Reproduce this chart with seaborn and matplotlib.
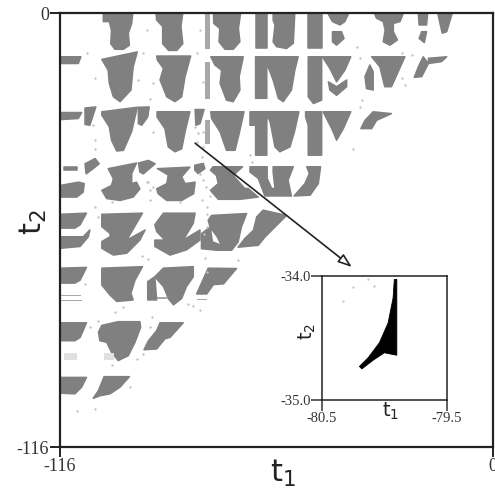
#!/usr/bin/env python3

import matplotlib
matplotlib.use("Agg")
import matplotlib.pyplot as plt
import seaborn as sns

sns.set_theme(style="white")
plt.rcParams['font.family'] = ['Liberation Serif', 'DejaVu Serif']
plt.rcParams['mathtext.default'] = 'regular'
plt.rcParams['axes.unicode_minus'] = False

# outlines of the grey regions, one list per band of t2, as (t1, t2)
row1 = [
    [(-104.4, 0), (-96.5, 0), (-96.8, -2.8), (-97.7, -5.4), (-97.4, -8.6), (-99, -9.7), (-101.3, -9.7), (-102.4, -8.2), (-102.2, -4.6), (-102.8, -2.3), (-104.4, -2.3)],
    [(-90.3, 0), (-83.1, 0), (-83.6, -3.6), (-83.1, -8.2), (-84.7, -10), (-86.9, -10), (-88.5, -8.2), (-88.5, -3.6), (-90.1, -1.9)],
    [(-74.9, 0), (-67.6, 0), (-68.2, -4.1), (-67.8, -7.7), (-69.6, -9.7), (-71.8, -9.7), (-73.4, -7.7), (-73.2, -4.1), (-74.8, -2.8)],
    [(-63.6, 0), (-60.6, 0), (-60.6, -9.4), (-63.6, -9.4)],
    [(-58.9, 0), (-53.1, 0), (-53.5, -8.1), (-55.3, -9.5), (-58, -9), (-58.9, -7.7), (-58.4, -3.2), (-58.9, -1.9)],
    [(-49.5, 0), (-45.9, 0), (-45.9, -9.4), (-49.5, -9.4)],
    [(-44.3, 0), (-38.6, 0), (-39.7, -2.3), (-41, -3.2), (-43, -2.3)],
    [(-43, -5), (-40.6, -5), (-39.9, -6.8), (-41.9, -8.6), (-43, -7.7)],
    [(-31.8, 0), (-24, 0), (-24.9, -2.3), (-26.7, -2.8), (-26.7, -5), (-25.6, -7.2), (-27.6, -8.6), (-29.4, -7.7), (-28.9, -4.6), (-29.4, -2.3), (-31.2, -1.4)],
    [(-20, 0), (-17.5, 0), (-17.8, -3.2), (-19.8, -3.2)],
    [(-19.1, -5), (-17.8, -5), (-18.4, -7.9), (-19.8, -6.8)],
    [(-14.8, 0), (-10.9, 0), (-12.4, -5), (-13.6, -5.4), (-14.2, -2.8)],
]
row2 = [
    [(-116, -11.7), (-110.4, -11.7), (-111.1, -13.5), (-116, -13.5)],
    [(-104.8, -12.4), (-95.3, -10.4), (-96.4, -14.4), (-97, -20.6), (-99.9, -23.7), (-101.7, -22.4), (-102.8, -18.8), (-103.1, -15.3)],
    [(-90.1, -11.5), (-81, -11.5), (-82.5, -17), (-83.4, -22.4), (-85.2, -23.7), (-87.4, -22.4), (-89.2, -17.9), (-88.3, -14.8), (-89.9, -12.6)],
    [(-75.6, -11.7), (-66.9, -11.7), (-68, -17), (-67.8, -20.6), (-69.6, -23.7), (-71.4, -23.3), (-73.1, -18.8), (-72.7, -15.3), (-74.5, -13.9)],
    [(-63.6, -11.7), (-52.2, -11.7), (-53.1, -15.3), (-54, -20.6), (-56.2, -23.7), (-57.5, -22.8), (-58.9, -17.9), (-60.6, -13.5), (-60.6, -22.8), (-63.6, -22.8)],
    [(-49.5, -11.7), (-45.9, -11.7), (-45.9, -23.3), (-48.1, -24.2), (-49.5, -22.4)],
    [(-45.7, -11.7), (-38.1, -11.7), (-39.7, -15.3), (-41.9, -18.4), (-43.7, -14.8)],
    [(-44.1, -18.4), (-41.9, -19.7), (-39.2, -17.9), (-39.2, -19.7), (-41.9, -22), (-43.7, -20.6)],
    [(-32.5, -11.7), (-23.6, -11.7), (-25.4, -15.7), (-27.2, -19.7), (-29, -19.7), (-30.3, -14.4)],
    [(-33, -13.9), (-32.1, -15.7), (-32.1, -20.6), (-33.9, -20.2), (-34.3, -17)],
    [(-17.3, -12.1), (-12.4, -11.7), (-13.8, -13), (-17.3, -13.5)],
    [(-18.7, -11.7), (-17.3, -13.5), (-19.1, -17), (-21.1, -17.2), (-20, -14.4)],
]
row3 = [
    [(-116, -26.6), (-110.2, -26.6), (-111.1, -28.2), (-116, -28.5)],
    [(-109.3, -25.4), (-106.4, -25.1), (-108, -30), (-109.3, -29.8)],
    [(-104.8, -26.4), (-95.3, -25.2), (-96.8, -31.7), (-99, -36.7), (-100.8, -36.9), (-102.2, -34), (-102.8, -30.4), (-104.8, -27.3)],
    [(-95, -25.2), (-92.1, -25.1), (-92.5, -27.8), (-94.1, -30), (-95, -29.6)],
    [(-90, -26.4), (-81.2, -26.4), (-82.5, -31.8), (-83.4, -36.3), (-85.2, -37.1), (-87, -35.8), (-87.9, -30.9), (-90, -27.8)],
    [(-79.8, -25.8), (-77.4, -25.8), (-78.5, -29.6), (-79.6, -30)],
    [(-75.6, -26.4), (-66.7, -26.4), (-68, -32.2), (-69.1, -36.7), (-71.4, -36.7), (-73.1, -31.8), (-75.4, -28.2)],
    [(-65.1, -26.4), (-52, -26.4), (-53.2, -31.8), (-54.4, -35.8), (-57.1, -37.1), (-58.4, -35.8), (-59.7, -29.1), (-60.6, -27.3), (-60.6, -38), (-63.6, -38), (-63.6, -30), (-65.1, -30)],
    [(-50.2, -26.4), (-45.9, -26.4), (-45.9, -38), (-49.5, -38), (-49.5, -30), (-50.2, -27.8)],
    [(-45.5, -26.4), (-38.1, -26.4), (-40.1, -30.9), (-41.9, -34), (-43.2, -30.9), (-44.6, -28.2)],
    [(-32.1, -26.4), (-27.2, -26.9), (-31.2, -28.7), (-32.5, -30.9), (-35.4, -30.9), (-34.3, -28.7)],
]
row4 = [
    [(-115, -41.2), (-111.5, -41.2), (-111.5, -42), (-115, -42)],
    [(-109.3, -40.3), (-106.6, -38.9), (-105.5, -40.3), (-107.1, -41.6), (-109, -43)],
    [(-116, -46.1), (-111, -45.2), (-109.5, -45.6), (-109.8, -47.9), (-111.5, -49.2), (-116, -49.2)],
    [(-103.1, -41.6), (-95.5, -40.1), (-96.8, -42.9), (-96.8, -45.6), (-95.5, -45.2), (-94.6, -47), (-96.4, -49.2), (-99.9, -50.1), (-103.5, -49.6), (-104.8, -47.4), (-102.2, -46.1), (-101.7, -44.3)],
    [(-95, -40.1), (-92.3, -39.4), (-90.5, -40.3), (-93.7, -43), (-94.6, -42.5)],
    [(-89.9, -41.6), (-81.2, -41.2), (-83.4, -43.8), (-82.5, -45.6), (-79.8, -45.2), (-80.2, -48.3), (-83.4, -50.1), (-87.4, -50.1), (-89.7, -48.3), (-90.1, -47), (-87.4, -45.6), (-87, -43.3)],
    [(-79.9, -40.7), (-77.6, -40.2), (-77.2, -41.6), (-79, -42.9), (-79.9, -42)],
    [(-75.7, -42), (-75, -41.1), (-67.1, -41.1), (-69.6, -43.4), (-66.5, -46.9), (-65.6, -46.9), (-62.9, -49.2), (-67.8, -49.8), (-73.6, -49.8), (-75.7, -47.4), (-73.6, -45.6), (-74.1, -43.4)],
    [(-65.1, -41.1), (-60.5, -41.1), (-60.5, -44.2), (-59.3, -46.9), (-58.4, -46.9), (-58.9, -42.5), (-58.9, -41.1), (-53.5, -41.1), (-54.9, -44.7), (-54, -48.9), (-61.1, -48.9), (-62.9, -44.2), (-65.1, -42.5)],
    [(-49.9, -41.1), (-46.2, -41.1), (-46.8, -45.6), (-49, -48.7), (-53.3, -48.9), (-50.4, -45.6), (-49.2, -42.9)],
]
row5 = [
    [(-116, -53.8), (-108.9, -53.5), (-110.6, -56.6), (-112, -57.5), (-116, -57.5)],
    [(-116, -59.8), (-109.8, -59.8), (-108, -58), (-108.4, -59.8), (-110.6, -62.4), (-116, -62.9)],
    [(-104.8, -53.8), (-93.9, -53.5), (-95.5, -56.2), (-98.1, -60.7), (-93.2, -58), (-94.6, -60.7), (-98.1, -64.2), (-101.7, -64.7), (-104.8, -62.9), (-104.8, -61.1), (-102.6, -59.8), (-102.6, -58.9), (-104.8, -57.1)],
    [(-90.6, -56.6), (-88.3, -53.5), (-79.8, -53.5), (-80.3, -56.2), (-83, -60.7), (-78.5, -58), (-78.5, -60.7), (-82.1, -63.3), (-86.5, -64.7), (-90.6, -62.4), (-90.6, -60.7), (-87.9, -60.7), (-90.1, -58.4)],
    [(-76.3, -55.4), (-75.4, -54.1), (-66, -53.6), (-67.4, -57.2), (-68.3, -61.2), (-70, -63.4), (-74.1, -63.4), (-78.1, -63), (-78.1, -59), (-75.8, -57.2)],
    [(-63.3, -54.5), (-61.6, -52.7), (-55.3, -54.1), (-58, -56.8), (-61.1, -59.9), (-62.9, -62.1), (-68.3, -62.6), (-66.5, -60.3), (-64.2, -58.1)],
]
row6 = [
    [(-116, -68.2), (-108.9, -68), (-110.6, -71.4), (-112, -72.2), (-116, -72.2)],
    [(-104.8, -68.2), (-93.9, -67.8), (-95.9, -71.4), (-97, -74.9), (-96.4, -76.7), (-100.8, -77.1), (-102.6, -75.4), (-104.8, -72.7)],
    [(-88.3, -68.2), (-80.3, -67.8), (-80.3, -70.5), (-82.1, -73.1), (-83.4, -76.3), (-85.6, -78), (-87, -76.3), (-88.3, -73.1), (-90.6, -70.5)],
    [(-92.5, -71.8), (-90.6, -70.5), (-90.1, -76.7), (-92.5, -76.7)],
    [(-76.3, -68.2), (-68.7, -68.3), (-72.2, -72.4), (-74.9, -72.6), (-76.7, -75.1), (-79.4, -75.1)],
]
row7 = [
    [(-116, -82.8), (-108.9, -82.8), (-110.6, -86.7), (-112, -87.6), (-116, -87.6)],
    [(-104.8, -83.5), (-100.4, -82.5), (-94.6, -82.5), (-94.4, -84), (-95.9, -88), (-97.7, -91.6), (-100.4, -92.9), (-102.2, -90.7), (-103.5, -88), (-105.3, -87.6), (-105.7, -85.3)],
    [(-89.2, -82.8), (-83, -82.8), (-86.5, -86.7), (-87.9, -87.1), (-90.1, -89.8), (-93.5, -90), (-92.3, -87.6), (-90.1, -84.9)],
]
row8 = [
    [(-116, -97.4), (-108.9, -97.4), (-110.2, -100), (-112, -101.8), (-116, -101.6)],
    [(-104.2, -97.2), (-97.4, -97.2), (-99.9, -100), (-102.6, -101.8), (-105.3, -102.3), (-107.1, -103), (-105.7, -100.9)],
]
# the thin strip near t1=-76 and the thin bars of band 6
pale = [
    [(-77.2, 0), (-75.8, 0), (-75.8, -9.5), (-77.2, -9.5)],
    [(-77.2, -13), (-75.8, -13), (-75.8, -23), (-77.2, -23)],
    [(-77.2, -28.5), (-75.8, -28.5), (-75.8, -35), (-77.2, -35)],
    [(-116, -75.3), (-110.5, -75.3), (-110.5, -75.6), (-116, -75.6)],
    [(-116, -76.7), (-110, -76.7), (-110, -77), (-116, -77)],
    [(-90.1, -76), (-87, -76), (-87, -76.5), (-90.1, -76.5)],
    [(-79.4, -76.5), (-76.7, -76.5), (-76.7, -76.8), (-79.4, -76.8)],
]
# washed out patches under band 7
faint = [
    [(-115, -90.9), (-111.5, -90.9), (-111.5, -92.8), (-115, -92.8)],
    [(-104.3, -90.9), (-101.5, -90.9), (-101.5, -92.8), (-104.3, -92.8)],
]
# holes left inside the regions of band 5 and 6
holes = [
    [(-75.4, -58.1), (-74, -60), (-73.2, -61.7), (-75, -61)],
    [(-90, -71.8), (-88.3, -73.8), (-87.5, -75.6), (-90, -75.6)],
]

speck_t1 = [-108.7, -106.6, -92.8, -93.7, -95, -91, -91.9, -107.1, -106.6, -106.6, -91, -77.6, -78.5, -79.4, -77.6, -79.4,
            -92.8, -91.9, -102.2, -106.6, -83.9, -77.6, -76.7, -76.7, -105.7, -36.5, -35.6, -24.5, -21.8, -35.2, -35.6,
            -23.6, -37.4, -65.1, -24.5, -64.5, -109.3, -101.3, -99, -91.4, -91.9, -68.2, -76.7, -111.5, -106.6, -102.2,
            -95.5, -93.7, -105.7, -108, -80.3, -97.3, -79, -77.7, -77.9, -78.5, -77, -77.9, -76.6, -77.5, -79.8, -92.5,
            -92, -91.2, -75.9, -77.2, -92.3, -93.9, -81.6, -78.6]
speck_t2 = [-10.8, -17.5, -4.6, -10.8, -17.9, -18.8, -22.9, -30, -34, -36.3, -31.8, -18.4, -4.6, -10.8, -31.8, -34.5,
            -45.2, -50.1, -50.5, -51.9, -50.5, -44.7, -51.9, -57.2, -54.6, -9, -12.1, -10.8, -11.3, -23.3, -25.1,
            -19.3, -36.3, -38, -17.5, -39.8, -72.4, -80, -78.6, -81.3, -84, -66.1, -69.2, -106.3, -105.8, -94.2,
            -92.5, -91.1, -82.2, -84, -78.2, -100, -32.2, -35.8, -38.4, -43, -46.5, -50.1, -53.7, -59, -30.4, -45.2,
            -47.4, -46.5, -49, -65.5, -65.8, -65, -77.9, -79.5]

# zoomed region in the inset
zoom_region = [(-79.92, -34.03), (-79.9, -34.03), (-79.9, -34.64), (-80.0, -34.62), (-80.09, -34.68), (-80.18, -34.75),
               (-80.2, -34.73), (-80.13, -34.66), (-80.04, -34.54), (-79.97, -34.38), (-79.93, -34.18)]
zoom_speck_t1 = [-80.33, -80.25, -80.13, -80.08]
zoom_speck_t2 = [-34.2, -34.09, -34.03, -34.08]

GREY = '#808080'
INK = '#222222'


def style_axes(ax, lw):
    for side in ax.spines:
        ax.spines[side].set_visible(True)
        ax.spines[side].set_color(INK)
        ax.spines[side].set_linewidth(lw)


fig = plt.figure(figsize=(4.95, 4.91), dpi=100)
fig.patch.set_facecolor('white')

# main panel
ax = fig.add_axes([60 / 495, 1 - 447 / 491, 433 / 495, 434 / 491])
for row in [row1, row2, row3, row4, row5, row6, row7, row8]:
    for region in row:
        ax.fill(*zip(*region), color=GREY, lw=1.1, joinstyle='round')
for region in pale:
    ax.fill(*zip(*region), color='#a8a8a8', lw=0)
for region in faint:
    ax.fill(*zip(*region), color='#e0e0e0', lw=0)
for region in holes:
    ax.fill(*zip(*region), color='white', lw=0)
sns.scatterplot(x=speck_t1, y=speck_t2, ax=ax, s=3, color='#c4c4c4', linewidth=0)

ax.set_xlim(-116, 0)
ax.set_ylim(-116, 0)
ax.set_xticks([-116, 0])
ax.set_yticks([-116, 0])
ax.tick_params(axis='both', direction='out', length=7, width=1.4, color=INK, labelsize=13, labelcolor='#333333', pad=1,
               bottom=True, left=True)
style_axes(ax, 1.6)
ax.set_xlabel('t$_1$', family='DejaVu Sans', fontsize=22, color='#222222')
ax.xaxis.set_label_coords(223 / 433, -11 / 434, transform=ax.transAxes)
ax.xaxis.label.set_verticalalignment('top')
ax.set_ylabel('t$_2$', family='DejaVu Sans', fontsize=22, color='#222222')
ax.yaxis.set_label_coords(-27 / 433, 225 / 434, transform=ax.transAxes)
ax.yaxis.label.set_verticalalignment('center')

# arrow from the zoomed spot to the inset
ax.annotate('', xy=(-37.8, -67.9), xytext=(-79.8, -34.8),
            arrowprops=dict(arrowstyle='-|>,head_length=0.7,head_width=0.25', fc='white', ec='#222222', lw=1.2,
                            shrinkA=0, shrinkB=0))

# inset
inset = fig.add_axes([322 / 495, 1 - 400 / 491, 124.7 / 495, 124.3 / 491])
inset.set_facecolor('white')
inset.fill(*zip(*zoom_region), color='black', lw=0.6)
sns.scatterplot(x=zoom_speck_t1, y=zoom_speck_t2, ax=inset, s=3, color='#c8c8c8', linewidth=0)
inset.set_xlim(-80.5, -79.5)
inset.set_ylim(-35, -34)
inset.set_xticks([-80.5, -79.5])
inset.set_yticks([-35, -34])
inset.set_xticklabels(['-80.5', '-79.5'])
inset.set_yticklabels(['-35.0', '-34.0'])
inset.tick_params(axis='x', direction='out', length=8, width=1.1, color='#333333', labelsize=10.5, labelcolor='#333333', pad=1,
                  bottom=True)
inset.tick_params(axis='y', direction='out', length=8, width=1.1, color='#333333', labelsize=10.5, labelcolor='#333333', pad=0,
                  left=True)
style_axes(inset, 1.1)
inset.set_xlabel('t$_1$', family='DejaVu Sans', fontsize=14, color='#222222')
inset.xaxis.set_label_coords(0.55, -0.005, transform=inset.transAxes)
inset.xaxis.label.set_verticalalignment('top')
inset.set_ylabel('t$_2$', family='DejaVu Sans', fontsize=14, color='#222222')
inset.yaxis.set_label_coords(-0.12, 0.55, transform=inset.transAxes)
inset.yaxis.label.set_verticalalignment('center')

fig.savefig('out.png', dpi=100)
